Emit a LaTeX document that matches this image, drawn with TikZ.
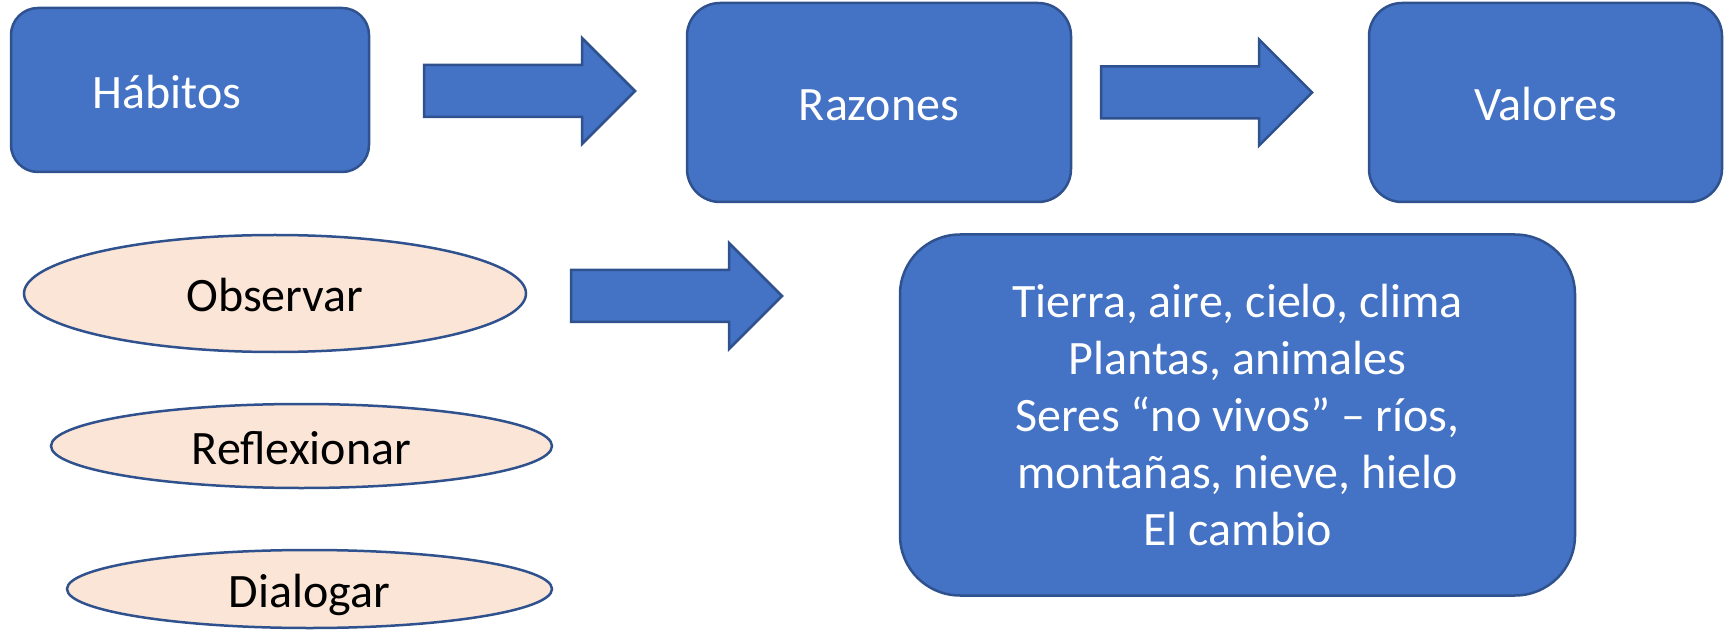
\documentclass[tikz,border=0pt]{standalone}
\usepackage{fontspec}
\setmainfont{Carlito}
\usetikzlibrary{shapes.geometric}

\definecolor{boxblue}{HTML}{4472C4}
\definecolor{edgeblue}{HTML}{2F528F}
\definecolor{peach}{HTML}{FBE5D6}

\begin{document}
\begin{tikzpicture}[x=0.5pt, y=-0.5pt,
    box/.style={draw=edgeblue, fill=boxblue, line width=1.25pt, text=white,
        inner sep=0pt, font=\fontsize{24}{28.5}\selectfont},
    oval/.style={ellipse, draw=edgeblue, fill=peach, line width=1.25pt, text=black,
        inner sep=0pt, font=\fontsize{24}{28.5}\selectfont},
    oneline/.style={text height=18.5pt, text depth=0pt},
    blockarrow/.style={draw=edgeblue, fill=boxblue, line width=1.25pt, line join=miter}]

% Fix the size of the page
\useasboundingbox (0,0) rectangle (1732,630);

% Top row: the three steps
\node[box, oneline, minimum width=179pt, minimum height=82pt, rounded corners=13.5pt] (habitos) at (190,90) {\hspace*{-23pt}Hábitos};
\node[box, oneline, minimum width=192pt, minimum height=99.5pt, rounded corners=16.5pt] (razones) at (879,102.5) {Razones};
\node[box, oneline, minimum width=176.5pt, minimum height=99.5pt, rounded corners=16.5pt] (valores) at (1545.5,102.5) {Valores};

% Left column: the three actions
\node[oval, oneline, minimum width=251pt, minimum height=58.5pt] (observar) at (275,293.5) {Observar};
\node[oval, oneline, minimum width=250.5pt, minimum height=42pt] (reflexionar) at (301.5,446) {Reflexionar};
\node[oval, oneline, minimum width=242.5pt, minimum height=39pt] (dialogar) at (309.5,589) {Dialogar};

% The big box with the topics
\node[box, align=center, minimum width=337.5pt, minimum height=180.5pt, rounded corners=30pt] (temas) at (1237.5,415)
    {Tierra, aire, cielo, clima\\Plantas, animales\\Seres “no vivos” – ríos,\\montañas, nieve, hielo\\El cambio};

% Draw the block arrows
\foreach \x/\y in {424/91, 1101/92.5, 571/296} {
    \draw[blockarrow] (\x,\y-26) -- ++(158,0) -- ++(0,-27) -- (\x+211,\y)
        -- (\x+158,\y+53) -- ++(0,-27) -- (\x,\y+26) -- cycle;
}

\end{tikzpicture}
\end{document}
